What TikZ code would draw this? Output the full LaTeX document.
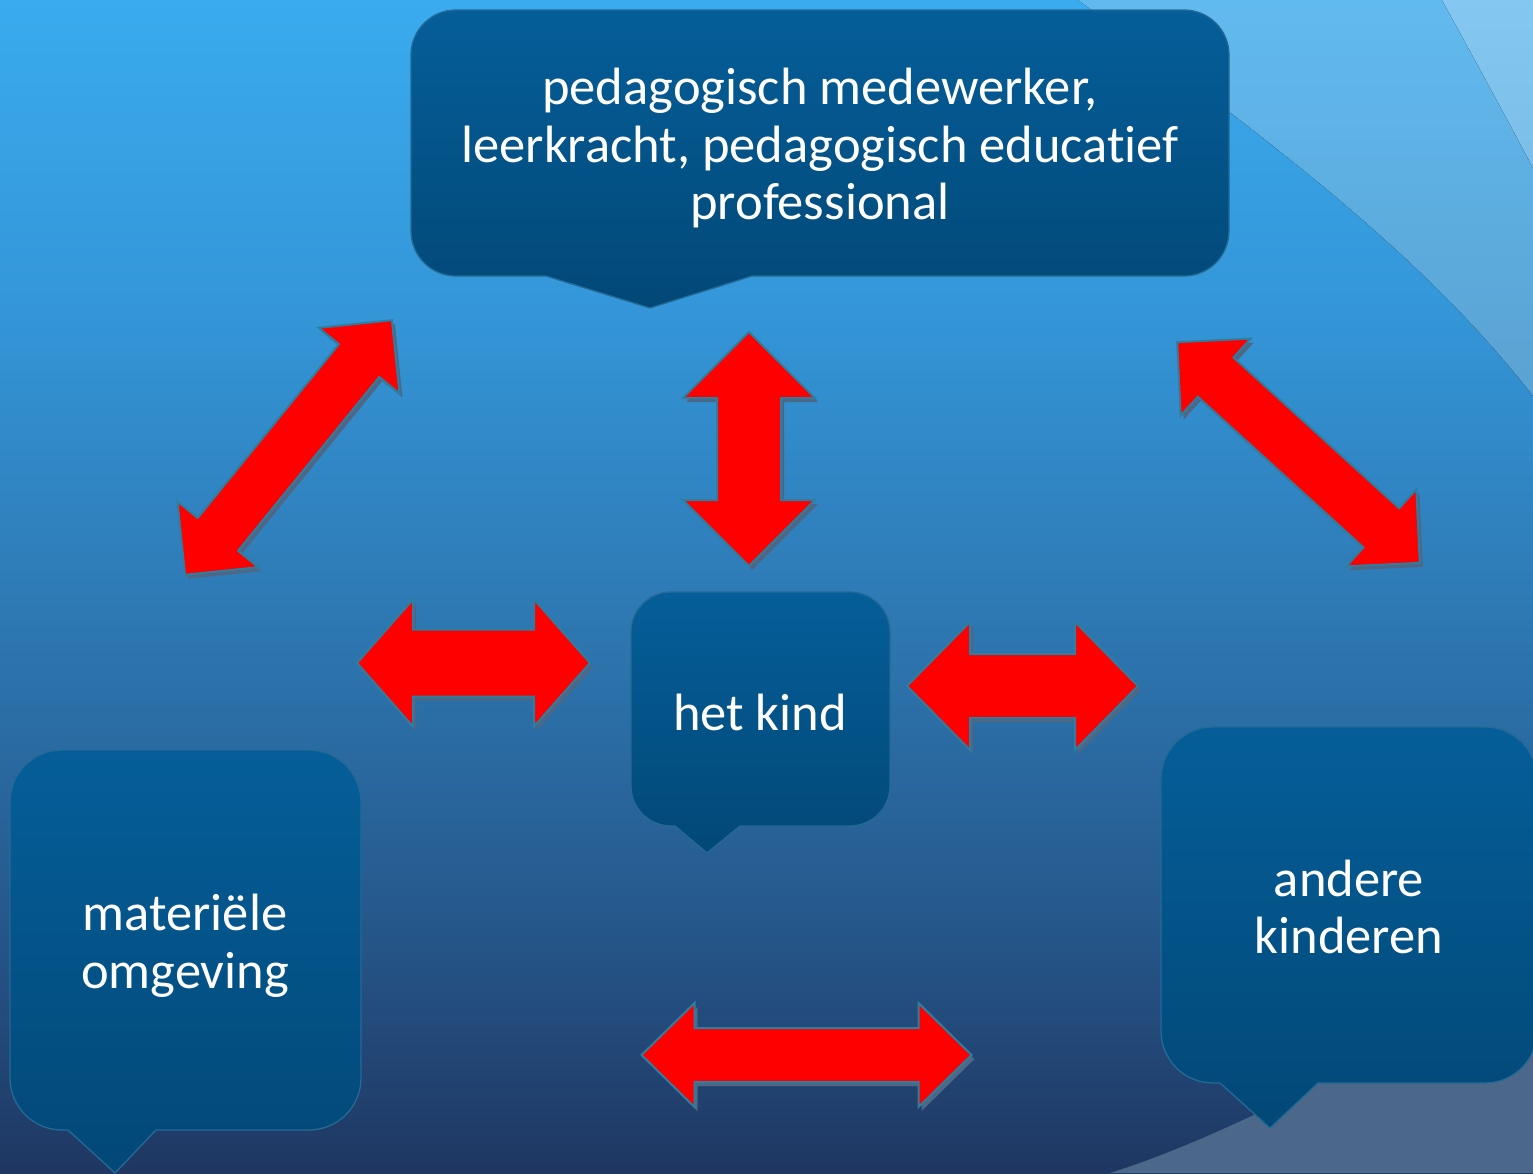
\documentclass[tikz,border=0pt]{standalone}
\usepackage{fontspec}
\setmainfont{Carlito}[Ligatures=NoCommon]
\definecolor{bg0}{HTML}{39ABEE}
\definecolor{bg1}{HTML}{3497D9}
\definecolor{bg2}{HTML}{2E7AB5}
\definecolor{bg3}{HTML}{265A8E}
\definecolor{bg4}{HTML}{1F3762}
\definecolor{swA}{HTML}{61BAEF}
\definecolor{swAb}{HTML}{5AA2D2}
\definecolor{swB}{HTML}{84C8F1}
\definecolor{swBb}{HTML}{7BBFE8}
\definecolor{swC}{HTML}{4B6789}
\definecolor{boxtop}{HTML}{055E99}
\definecolor{boxbot}{HTML}{024877}
\definecolor{boxedge}{HTML}{246A95}
\definecolor{arrred}{HTML}{FF0000}
\definecolor{arredge}{HTML}{2C7FA0}
\definecolor{arrshade}{HTML}{4D6785}
% bubble: x1,y1,x2,y2,r,tailleft,tailx,taily,tailright
\newcommand{\bubblepath}[9]{%
  (#1+#5,#2) -- (#3-#5,#2) arc[start angle=-90,end angle=0,radius=#5]
  -- (#3,#4-#5) arc[start angle=0,end angle=90,radius=#5]
  -- (#9,#4) -- (#7,#8) -- (#6,#4)
  -- (#1+#5,#4) arc[start angle=90,end angle=180,radius=#5]
  -- (#1,#2+#5) arc[start angle=180,end angle=270,radius=#5] -- cycle}
% double block arrow: cx,cy,angle,halflength,shafthalf,headhalf,headlength
\newcommand{\arrowpoly}[4]{%
  (-#1,0) -- (-#1+#4,-#3) -- (-#1+#4,-#2) -- (#1-#4,-#2) -- (#1-#4,-#3) -- (#1,0)
  -- (#1-#4,#3) -- (#1-#4,#2) -- (-#1+#4,#2) -- (-#1+#4,#3) -- cycle}
\newcommand{\dblarrow}[7]{%
  \begin{scope}[shift={(#1+3,#2+4)},rotate=#3]
    \fill[arrshade] \arrowpoly{#4}{#5}{#6}{#7};
  \end{scope}
  \begin{scope}[shift={(#1,#2)},rotate=#3]
    \path[blockarrow] \arrowpoly{#4}{#5}{#6}{#7};
  \end{scope}}
\tikzset{
  bubble/.style={top color=boxtop,bottom color=boxbot,draw=boxedge,line width=1.3pt},
  blockarrow/.style={fill=arrred,draw=arredge,line width=2pt,line join=miter},
  label/.style={text=white,align=center,inner sep=0pt,font=\fontsize{52.5}{57.5}\selectfont}
}
\begin{document}
\begin{tikzpicture}[x=1pt,y=-1pt]
\useasboundingbox (0,0) rectangle (1533,1173);
\clip (0,0) rectangle (1533,1173);
% background
\fill[top color=bg0,bottom color=bg1] (0,0) rectangle (1533,300.5);
\fill[top color=bg1,bottom color=bg2] (0,300) rectangle (1533,600.5);
\fill[top color=bg2,bottom color=bg3] (0,600) rectangle (1533,900.5);
\fill[top color=bg3,bottom color=bg4] (0,900) rectangle (1533,1173);
\fill[top color=swA,bottom color=swAb] (1078,0) .. controls (1250,125) and (1420,250) .. (1533,396) -- (1533,0) -- cycle;
\fill[top color=swB,bottom color=swBb] (1442,0) .. controls (1475,60) and (1505,115) .. (1533,168) -- (1533,0) -- cycle;
\fill[swC] (1110,1173) .. controls (1200,1145) and (1350,1075) .. (1533,960) -- (1533,1173) -- cycle;
% bubbles
\path[bubble] \bubblepath{411}{10}{1229}{276}{45}{546}{650}{308}{752};
\path[bubble] \bubblepath{631}{592}{890}{826}{40}{675}{707}{853}{740};
\path[bubble] \bubblepath{10}{750}{361}{1130}{52}{68}{115}{1173}{156};
\path[bubble] \bubblepath{1161}{727}{1537}{1083}{52}{1220}{1270}{1128}{1318};
% labels
\node[label] (ped) at (820,148) {pedagogisch medewerker,\\leerkracht, pedagogisch educatief\\professional};
\node[label] (kind) at (760,712) {het kind};
\node[label] (mat) at (185,946) {materiële\\omgeving};
\node[label] (andere) at (1349,907) {andere\\kinderen};
% arrows
\dblarrow{749}{449}{90}{117}{32}{66}{66}
\dblarrow{473.5}{663}{0}{116.5}{33.5}{63.5}{56}
\dblarrow{1022.5}{686}{0}{115.5}{32}{64}{63}
\dblarrow{806.5}{1055}{0}{165}{27}{52}{53}
\dblarrow{288.5}{447.5}{50.9}{164}{26}{52}{52}
\dblarrow{1298.5}{452.5}{-42.3}{164}{26.5}{52}{52}
\end{tikzpicture}
\end{document}
